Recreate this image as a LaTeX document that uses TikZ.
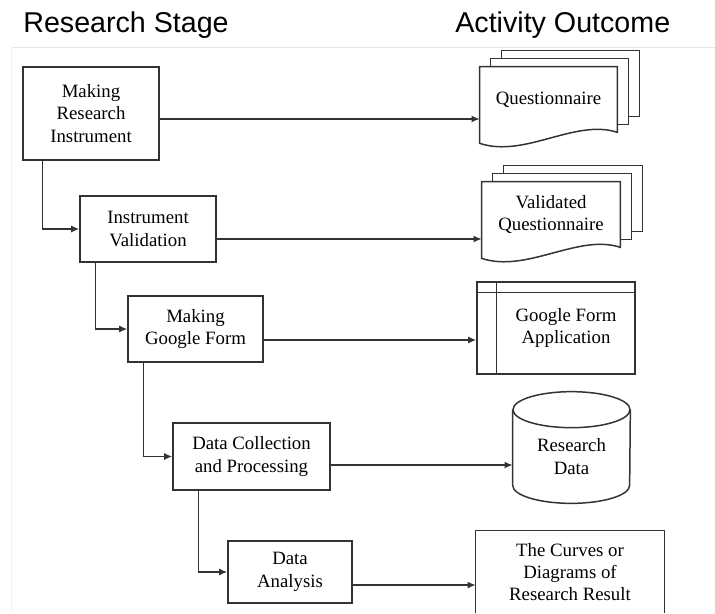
\documentclass[tikz,border=0pt]{standalone}
\usepackage{fontspec}
\setmainfont{Liberation Serif}
\newfontfamily\headfont{Liberation Sans}
\usetikzlibrary{calc,backgrounds,arrows.meta}
\definecolor{linecol}{HTML}{333333}
\definecolor{rulecol}{HTML}{E6E6E6}

\tikzset{
	stage/.style={draw=linecol,
		line width=.85pt,
		align=center,
		inner sep=0pt,
		font=\fontsize{10.7}{12.7}\selectfont},
	outcome/.style={align=center,
		inner sep=0pt,
		font=\fontsize{10.7}{12.7}\selectfont},
	sheet/.style={draw=linecol, line width=.85pt, fill=white},
	flow/.style={draw=linecol, line width=.85pt, -{Latex[length=4.6pt,width=4pt]}},
	heading/.style={anchor=base west,
		inner sep=0pt,
		font=\headfont\fontsize{16.3}{19}\selectfont}
}

\begin{document}
\begin{tikzpicture}[x=0.02cm, y=-0.02cm]
		\useasboundingbox (0,0) rectangle (715,613);
		% headings
		\node[heading] (h1) at (23,32) {Research Stage};
		\node[heading] (h2) at (455,32) {Activity Outcome};
		\draw[rulecol] (12,47) -- (715,47);
		\draw[rulecol!60] (11,47) -- (11,613);

		% research stages
		\node[stage, minimum width=2.72cm, minimum height=1.86cm] (b1) at (91,113.5) {Making\\Research\\Instrument};
		\node[stage, minimum width=2.72cm, minimum height=1.32cm] (b2) at (148,229) {Instrument\\Validation};
		\node[stage, minimum width=2.7cm, minimum height=1.32cm] (b3) at (195.5,329) {Making\\Google Form};
		\node[stage, minimum width=3.14cm, minimum height=1.34cm] (b4) at (251.5,456.5) {Data Collection\\and Processing};
		\node[stage, minimum width=2.48cm, minimum height=1.24cm] (b5) at (290,572) {Data\\Analysis};

		% stage to next stage
		\draw[flow] ($(b1.south west)+(20,0)$) |- (b2.west);
		\draw[flow] ($(b2.south west)+(16,0)$) |- (b3.west);
		\draw[flow] ($(b3.south west)+(16,0)$) |- (b4.west);
		\draw[flow] ($(b4.south west)+(26,0)$) |- (b5.west);

		% questionnaire (stacked documents)
		\node[outcome, minimum width=2.74cm, minimum height=1.3cm] (o1) at (548.5,99.5) {Questionnaire};
		\begin{scope}[on background layer]
			\draw[sheet] ($(o1.north west)+(22,-16)$) rectangle ($(o1.south east)+(22,-16)$);
			\draw[sheet] ($(o1.north west)+(11,-8)$) rectangle ($(o1.south east)+(11,-8)$);
			\draw[sheet] (o1.south east) -- (o1.north east) -- (o1.north west) -- ($(o1.south west)+(0,11)$)
			.. controls +(45,15) and +(-42,-14) .. (o1.south east) -- cycle;
		\end{scope}

		% validated questionnaire
		\node[outcome, minimum width=2.76cm, minimum height=1.3cm] (o2) at (551,214.5) {Validated\\Questionnaire};
		\begin{scope}[on background layer]
			\draw[sheet] ($(o2.north west)+(22,-16)$) rectangle ($(o2.south east)+(22,-16)$);
			\draw[sheet] ($(o2.north west)+(11,-8)$) rectangle ($(o2.south east)+(11,-8)$);
			\draw[sheet] (o2.south east) -- (o2.north east) -- (o2.north west) -- ($(o2.south west)+(0,11)$)
			.. controls +(45,15) and +(-42,-14) .. (o2.south east) -- cycle;
		\end{scope}

		% google form application
		\node[sheet, minimum width=3.16cm, minimum height=1.84cm] (o3) at (556,328) {};
		\draw[linecol, line width=.85pt] ($(o3.north west)+(0,11)$) -- ($(o3.north east)+(0,11)$);
		\draw[linecol, line width=.85pt] ($(o3.north west)+(20,0)$) -- ($(o3.south west)+(20,0)$);
		\node[outcome] (o3t) at ($(o3.center)+(10,0)$) {Google Form\\Application};

		% research data
		\node[outcome, minimum width=2.34cm, minimum height=1.86cm] (o4) at (571.5,456.5) {Research\\Data};
		\begin{scope}[on background layer]
			\draw[sheet] (o4.north west) -- ($(o4.south west)+(0,-18)$)
			arc[start angle=180, end angle=360, x radius=1.17cm, y radius=0.36cm]
			-- (o4.north east);
			\draw[sheet] (o4.north) ellipse [x radius=1.17cm, y radius=0.36cm];
		\end{scope}

		% curves or diagrams
		\node[outcome, minimum width=3.76cm, minimum height=1.64cm] (o5) at (570,572) {The Curves or\\Diagrams of\\Research Result};
		\draw[linecol, line width=.85pt] (o5.south west) -- (o5.north west) -- (o5.north east) -- (o5.south east);

		% stage to outcome
		\draw[flow] ($(b1.east)+(0,5.5)$) coordinate (s1) -- (s1 -| o1.west);
		\draw[flow] ($(b2.east)+(0,10)$) coordinate (s2) -- (s2 -| o2.west);
		\draw[flow] ($(b3.east)+(0,11)$) coordinate (s3) -- (s3 -| o3.west);
		\draw[flow] ($(b4.east)+(0,8.5)$) coordinate (s4) -- (s4 -| o4.west);
		\draw[flow] ($(b5.east)+(0,13)$) coordinate (s5) -- (s5 -| o5.west);
\end{tikzpicture}
\end{document}
